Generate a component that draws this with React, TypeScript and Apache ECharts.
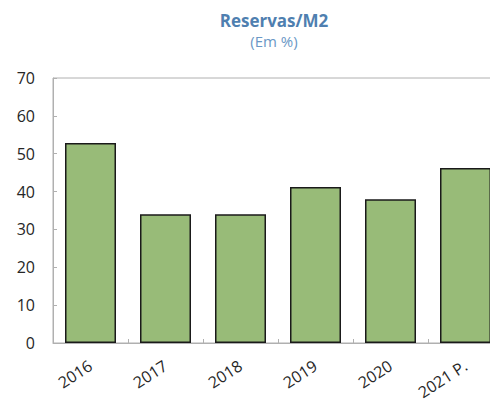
import React, { useEffect, useRef } from "react";
import * as echarts from "echarts";

const categories = ["2016", "2017", "2018", "2019", "2020", "2021 P."];
const values = [52.8, 34.0, 34.0, 41.2, 38.0, 46.2];
const yTicks = { min: 0, max: 70, interval: 10 };

export default function App() {
  const ref = useRef<HTMLDivElement>(null);
  useEffect(() => {
    if (!ref.current) return;
    const chart = echarts.init(ref.current, undefined, { renderer: "svg" });
    chart.setOption({
      animation: false,
      title: {
        text: "Reservas/M2",
        subtext: "(Em %)",
        left: 269,
        textAlign: "center",
        top: 7,
        itemGap: 4,
        textStyle: { fontFamily: "Open Sans", fontSize: 17, fontWeight: "bold", color: "#4f7fb0" },
        subtextStyle: { fontFamily: "Open Sans", fontSize: 15, color: "#6a98c6" },
      },
      grid: {
        left: 53,
        top: 78,
        width: 450,
        height: 265,
        show: true,
        borderColor: "#b0b0b0",
        borderWidth: 1,
        containLabel: false,
        outerBoundsMode: "none",
      },
      xAxis: {
        type: "category",
        data: categories,
        axisLine: { lineStyle: { color: "#b0b0b0", width: 1 } },
        axisTick: { show: true, inside: true, length: 4, alignWithLabel: false, lineStyle: { color: "#b0b0b0" } },
        axisLabel: {
          rotate: 33,
          margin: 21,
          fontFamily: "Open Sans",
          fontSize: 16,
          color: "#262626",
        },
      },
      yAxis: {
        type: "value",
        min: yTicks.min,
        max: yTicks.max,
        interval: yTicks.interval,
        splitLine: { show: false },
        axisLine: { show: true, lineStyle: { color: "#b0b0b0", width: 1 } },
        axisTick: { show: true, inside: true, length: 4, lineStyle: { color: "#b0b0b0" } },
        axisLabel: {
          margin: 18,
          fontFamily: "Open Sans",
          fontSize: 16,
          color: "#262626",
        },
      },
      series: [
        {
          type: "bar",
          data: values,
          barWidth: 51,
          itemStyle: { color: "#98bb78", borderColor: "#1a1a1a", borderWidth: 1.5 },
        },
      ],
    });
    return () => chart.dispose();
  }, []);
  return (
    <div
      ref={ref}
      style={{ position: "absolute", left: 0, top: 0, width: 490, height: 403, background: "#fff" }}
    />
  );
}
